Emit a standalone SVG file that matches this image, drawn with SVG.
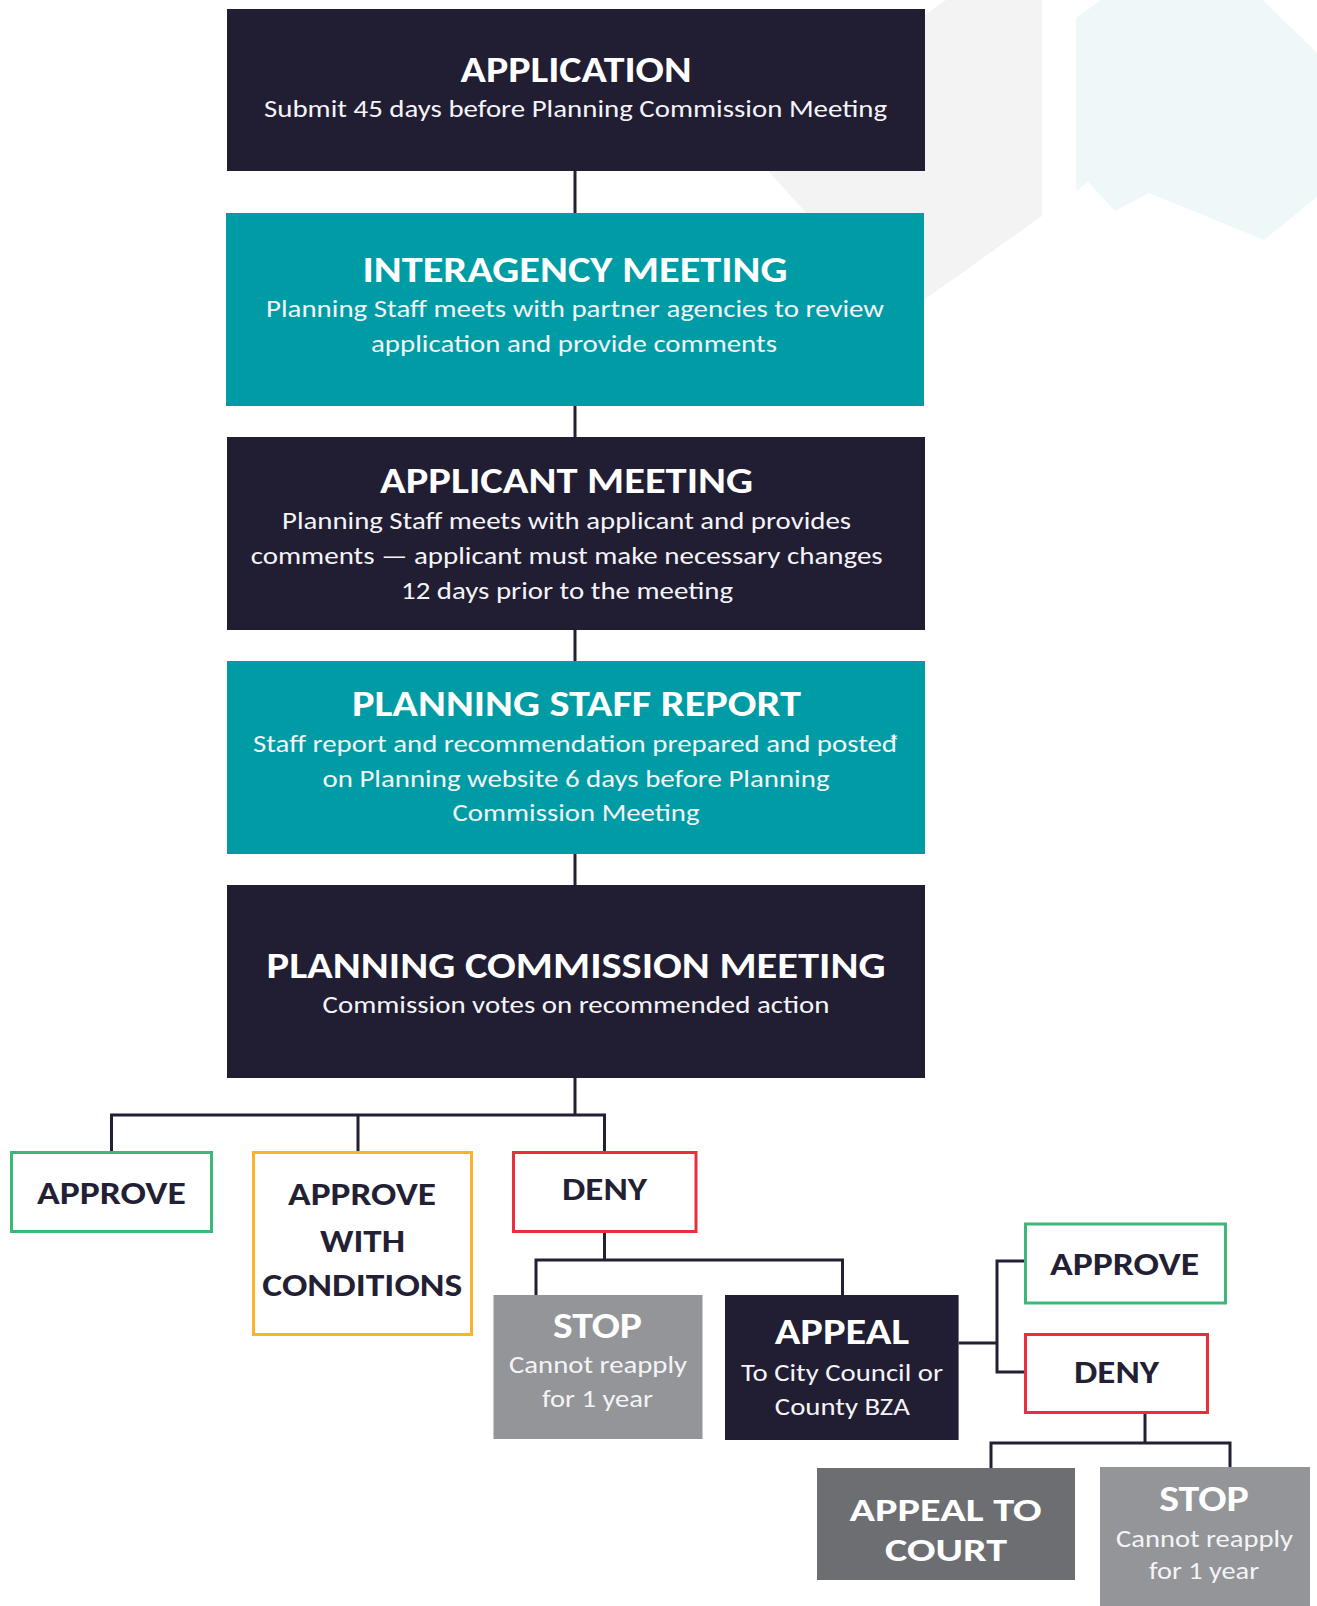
<svg xmlns="http://www.w3.org/2000/svg" width="1317" height="1606" viewBox="0 0 1317 1606">
<style>
.t{font-family:Calibri,Carlito,Lato,"Liberation Sans",sans-serif;text-anchor:middle}
.h{font-weight:700;font-size:36px;fill:#ffffff}
.hc{font-weight:700;font-size:32px;fill:#ffffff}
.hd{font-weight:700;font-size:33px;fill:#231f35}
.s{font-weight:400;font-size:24px;fill:#f4f4f6}
.navy{fill:#211d33}
.teal{fill:#009ca6}
.grey{fill:#939598}
.dgrey{fill:#6d6e71}
.ob{fill:#ffffff;stroke-width:3}
.conn{fill:none;stroke:#231f35;stroke-width:3}
</style>
<rect width="1317" height="1606" fill="#ffffff"/>
<g id="background">
<polygon points="946,0 1042,0 1042,216 900,317 744,144" fill="#f3f3f3"/>
<polygon points="1101,0 1263,0 1317,53 1317,197 1264,240 1149,193 1115,211 1088,182 1076,191 1076,18" fill="#eff8f8"/>
</g>
<g id="connectors">
<path class="conn" d="M575,171V213M575,406V437M575,630V661M575,854V885M575,1078V1115"/>
<path class="conn" d="M111.5,1151V1115H604.5V1151M358,1115V1151"/>
<path class="conn" d="M604.5,1233V1260M536,1295V1260H842.5V1295"/>
<path class="conn" d="M958.6,1343H997M1024,1261H997V1372H1024"/>
<path class="conn" d="M1145,1414V1443M991,1468V1443H1230V1467"/>
</g>
<g id="application">
<rect class="navy" x="227" y="9" width="698" height="162"/>
<text class="t h" x="576" y="82" textLength="231" lengthAdjust="spacingAndGlyphs">APPLICATION</text>
<text class="t s" x="575.5" y="117" textLength="623" lengthAdjust="spacingAndGlyphs">Submit 45 days before Planning Commission Meeting</text>
</g>
<g id="interagency">
<rect class="teal" x="226" y="213" width="698" height="193"/>
<text class="t h" x="575" y="282" textLength="425" lengthAdjust="spacingAndGlyphs">INTERAGENCY MEETING</text>
<text class="t s" x="575" y="317" textLength="618" lengthAdjust="spacingAndGlyphs">Planning Staff meets with partner agencies to review</text>
<text class="t s" x="574" y="352" textLength="406" lengthAdjust="spacingAndGlyphs">application and provide comments</text>
</g>
<g id="applicant">
<rect class="navy" x="227" y="437" width="698" height="193"/>
<text class="t h" x="566.5" y="493" textLength="373" lengthAdjust="spacingAndGlyphs">APPLICANT MEETING</text>
<text class="t s" x="566.5" y="529" textLength="569" lengthAdjust="spacingAndGlyphs">Planning Staff meets with applicant and provides</text>
<text class="t s" x="566.7" y="563.5" textLength="632" lengthAdjust="spacingAndGlyphs">comments — applicant must make necessary changes</text>
<text class="t s" x="567" y="599" textLength="332" lengthAdjust="spacingAndGlyphs">12 days prior to the meeting</text>
</g>
<g id="staff-report">
<rect class="teal" x="227" y="661" width="698" height="193"/>
<text class="t h" x="576.4" y="716" textLength="449" lengthAdjust="spacingAndGlyphs">PLANNING STAFF REPORT</text>
<text class="t s" x="575" y="752" textLength="644" lengthAdjust="spacingAndGlyphs">Staff report and recommendation prepared and posted</text>
<text class="t s" x="894" y="750" style="font-size:22px">*</text>
<text class="t s" x="576" y="787" textLength="507" lengthAdjust="spacingAndGlyphs">on Planning website 6 days before Planning</text>
<text class="t s" x="576" y="821" textLength="247" lengthAdjust="spacingAndGlyphs">Commission Meeting</text>
</g>
<g id="commission">
<rect class="navy" x="227" y="885" width="698" height="193"/>
<text class="t h" x="576" y="978" textLength="619" lengthAdjust="spacingAndGlyphs">PLANNING COMMISSION MEETING</text>
<text class="t s" x="576" y="1013" textLength="507" lengthAdjust="spacingAndGlyphs">Commission votes on recommended action</text>
</g>
<g id="approve">
<rect class="ob" x="11.5" y="1152.5" width="200" height="79" stroke="#3cb878"/>
<text class="t hd" x="111.4" y="1204" textLength="149" lengthAdjust="spacingAndGlyphs">APPROVE</text>
</g>
<g id="approve-with-conditions">
<rect class="ob" x="253.5" y="1152.5" width="218" height="182" stroke="#fbb42a"/>
<text class="t hd" x="362" y="1205" textLength="148" lengthAdjust="spacingAndGlyphs">APPROVE</text>
<text class="t hd" x="362.5" y="1251.5" textLength="85" lengthAdjust="spacingAndGlyphs">WITH</text>
<text class="t hd" x="362.3" y="1296" textLength="200" lengthAdjust="spacingAndGlyphs">CONDITIONS</text>
</g>
<g id="deny">
<rect class="ob" x="513.5" y="1152.5" width="182.5" height="79" stroke="#ec2d3c"/>
<text class="t hd" x="604.5" y="1200" textLength="85" lengthAdjust="spacingAndGlyphs">DENY</text>
</g>
<g id="stop">
<rect class="grey" x="493.5" y="1295" width="209" height="144"/>
<text class="t h" x="597.5" y="1338" textLength="89" lengthAdjust="spacingAndGlyphs">STOP</text>
<text class="t s" x="598" y="1373" textLength="178" lengthAdjust="spacingAndGlyphs">Cannot reapply</text>
<text class="t s" x="597.4" y="1407" textLength="111" lengthAdjust="spacingAndGlyphs">for 1 year</text>
</g>
<g id="appeal">
<rect class="navy" x="725" y="1295" width="233.6" height="145"/>
<text class="t h" x="842" y="1344" textLength="134.6" lengthAdjust="spacingAndGlyphs">APPEAL</text>
<text class="t s" x="842" y="1381" textLength="202" lengthAdjust="spacingAndGlyphs">To City Council or</text>
<text class="t s" x="842.3" y="1415" textLength="135" lengthAdjust="spacingAndGlyphs">County BZA</text>
</g>
<g id="appeal-approve">
<rect class="ob" x="1025.5" y="1224" width="200" height="79" stroke="#3cb878"/>
<text class="t hd" x="1124.5" y="1275" textLength="149" lengthAdjust="spacingAndGlyphs">APPROVE</text>
</g>
<g id="appeal-deny">
<rect class="ob" x="1025.5" y="1334.5" width="182" height="78" stroke="#ec2d3c"/>
<text class="t hd" x="1116.5" y="1382.5" textLength="85" lengthAdjust="spacingAndGlyphs">DENY</text>
</g>
<g id="appeal-to-court">
<rect class="dgrey" x="817" y="1468" width="258" height="112"/>
<text class="t hc" x="945.5" y="1521" textLength="192" lengthAdjust="spacingAndGlyphs">APPEAL TO</text>
<text class="t hc" x="946" y="1561" textLength="122" lengthAdjust="spacingAndGlyphs">COURT</text>
</g>
<g id="stop-2">
<rect class="grey" x="1100" y="1467" width="210" height="139"/>
<text class="t h" x="1204" y="1511" textLength="89.6" lengthAdjust="spacingAndGlyphs">STOP</text>
<text class="t s" x="1204.5" y="1546.5" textLength="177" lengthAdjust="spacingAndGlyphs">Cannot reapply</text>
<text class="t s" x="1204" y="1579" textLength="110" lengthAdjust="spacingAndGlyphs">for 1 year</text>
</g>
</svg>
